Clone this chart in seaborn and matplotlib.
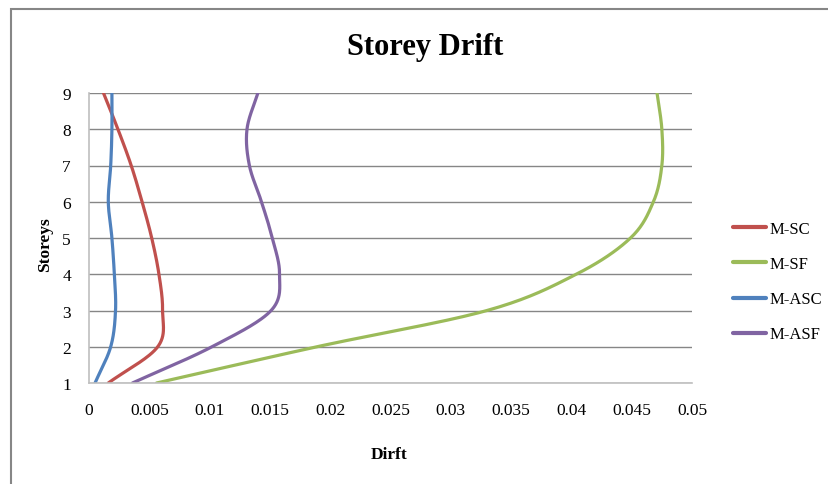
import numpy as np
import pandas as pd
import matplotlib
matplotlib.use("Agg")
import matplotlib.pyplot as plt
import seaborn as sns

storeys = [1, 2, 3, 4, 5, 6, 7, 8, 9]
m_sc = [0.0016, 0.0057, 0.0061, 0.0058, 0.0052, 0.0044, 0.0035, 0.0024, 0.0012]
m_sf = [0.0056, 0.0189, 0.0330, 0.0404, 0.0449, 0.0468, 0.0475, 0.0475, 0.0471]
m_asc = [0.0005, 0.0018, 0.0022, 0.0021, 0.0019, 0.0016, 0.0018, 0.0019, 0.0019]
m_asf = [0.0036, 0.0102, 0.0151, 0.0158, 0.0152, 0.0143, 0.0133, 0.0131, 0.0140]

series_names = ["M-SC", "M-SF", "M-ASC", "M-ASF"]
series_values = [m_sc, m_sf, m_asc, m_asf]
colors = ["#C0504D", "#9BBB59", "#4F81BD", "#8064A2"]
x_ticks = [0, 0.005, 0.01, 0.015, 0.02, 0.025, 0.03, 0.035, 0.04, 0.045, 0.05]
x_labels = ["0", "0.005", "0.01", "0.015", "0.02", "0.025", "0.03", "0.035", "0.04", "0.045", "0.05"]


def smooth(xs, ys, n=30):
    # Catmull-Rom style smoothing, roughly like Excel's "smoothed line"
    p = np.column_stack([xs, ys]).astype(float)
    p = np.vstack([2 * p[0] - p[1], p, 2 * p[-1] - p[-2]])
    out = []
    t = np.linspace(0, 1, n, endpoint=False)[:, None]
    for i in range(1, len(p) - 2):
        p0, p1, p2, p3 = p[i - 1], p[i], p[i + 1], p[i + 2]
        seg = 0.5 * ((2 * p1) + (-p0 + p2) * t + (2 * p0 - 5 * p1 + 4 * p2 - p3) * t ** 2
                     + (-p0 + 3 * p1 - 3 * p2 + p3) * t ** 3)
        out.append(seg)
    out.append(p[-2][None, :])
    out = np.vstack(out)
    return out[:, 0], out[:, 1]


frames = []
for name, vals in zip(series_names, series_values):
    sx, sy = smooth(vals, storeys)
    frames.append(pd.DataFrame({"Drift": sx, "Storey": sy, "Series": name}))
df = pd.concat(frames, ignore_index=True)

sns.set_theme(style="white")
plt.rcParams["font.family"] = ["Liberation Serif", "DejaVu Serif"]
plt.rcParams["text.color"] = "black"

fig = plt.figure(figsize=(8.29, 4.85), dpi=100)
ax = fig.add_axes([89 / 829, 1 - 384 / 485, (692 - 89) / 829, (384 - 94) / 485])

sns.lineplot(data=df, x="Drift", y="Storey", hue="Series", palette=colors,
             sort=False, estimator=None, units="Series", linewidth=2.3, ax=ax, legend=True)

ax.set_xlim(0, 0.05)
ax.set_ylim(1, 9)
ax.set_xticks(x_ticks)
ax.set_xticklabels(x_labels)
ax.set_yticks(storeys)
ax.grid(axis="y", color="#868686", linewidth=1)
ax.tick_params(axis="both", length=0, labelsize=12.5, colors="black")
ax.tick_params(axis="y", pad=13)
ax.tick_params(axis="x", pad=14)
for side in ["top", "right"]:
    ax.spines[side].set_visible(False)
for side in ["left", "bottom"]:
    ax.spines[side].set_color("#BFBFBF")
    ax.spines[side].set_linewidth(1.2)

ax.set_xlabel("")
ax.set_ylabel("")
fig.text(389 / 829, 1 - 455 / 485, "Dirft", ha="center", va="center", fontsize=12.5,
         fontweight="bold", color="black")
fig.text(45 / 829, 1 - 245 / 485, "Storeys", ha="center", va="center", rotation=90,
         fontsize=12.5, fontweight="bold", color="black")
fig.text(425 / 829, 1 - 48 / 485, "Storey Drift", ha="center", va="center", fontsize=22,
         fontweight="bold", color="black")

leg = ax.legend(title=None, frameon=False, fontsize=12, loc="upper left",
                bbox_to_anchor=(733 / 829, 1 - 222 / 485), bbox_transform=fig.transFigure,
                handlelength=2.0, handletextpad=0.2, labelspacing=1.15, borderaxespad=0,
                borderpad=0)
for line in leg.get_lines():
    line.set_linewidth(3)
for txt in leg.get_texts():
    txt.set_color("black")

border = plt.Rectangle((11 / 829, -0.1), 1.2, 1 - 10 / 485 + 0.1, transform=fig.transFigure,
                       fill=False, edgecolor="#868686", linewidth=1.5)
fig.patches.append(border)

fig.savefig("out.png", dpi=100)
